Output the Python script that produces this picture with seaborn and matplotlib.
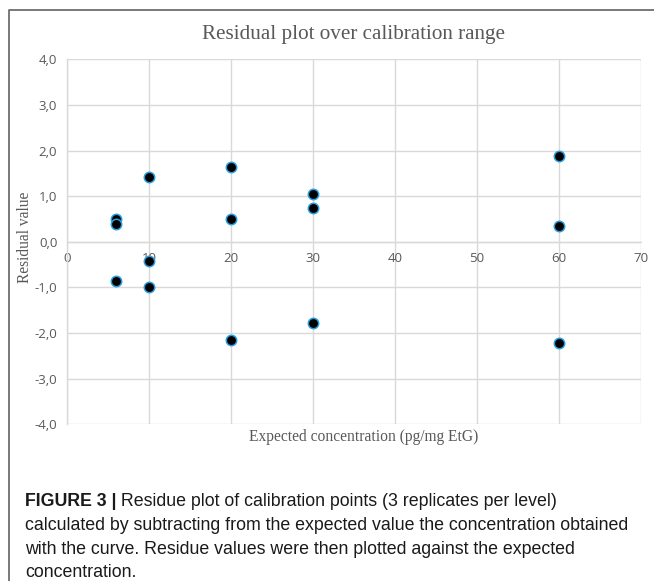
import matplotlib
matplotlib.use("Agg")
import matplotlib.pyplot as plt
from matplotlib.lines import Line2D
import seaborn as sns
import pandas as pd

# Calibration levels (pg/mg EtG) and residuals, three replicates per level
expected_conc = [6, 6, 6, 10, 10, 10, 20, 20, 20, 30, 30, 30, 60, 60, 60]
residuals = [0.50, 0.39, -0.87, 1.43, -0.41, -1.00, 1.64, 0.50, -2.15,
             1.05, 0.75, -1.78, 1.87, 0.35, -2.22]

x_ticks = [0, 10, 20, 30, 40, 50, 60, 70]
y_ticks = [-4.0, -3.0, -2.0, -1.0, 0.0, 1.0, 2.0, 3.0, 4.0]
y_tick_labels = ["-4,0", "-3,0", "-2,0", "-1,0", "0,0", "1,0", "2,0", "3,0", "4,0"]

chart_title = "Residual plot over calibration range"
x_title = "Expected concentration (pg/mg EtG)"
y_title = "Residual value"
caption_bold = "FIGURE 3 |"
caption_lines = [
    " Residue plot of calibration points (3 replicates per level)",
    "calculated by subtracting from the expected value the concentration obtained",
    "with the curve. Residue values were then plotted against the expected",
    "concentration.",
]

df = pd.DataFrame({"conc": expected_conc, "resid": residuals})

sns.set_theme(style="white")
W, H = 654, 581
fig = plt.figure(figsize=(W / 100, H / 100), dpi=100)
fig.patch.set_facecolor("white")

ax = fig.add_axes([67 / W, 1 - 424.3 / H, (641 - 67) / W, (424.3 - 59.3) / H])
ax.set_facecolor("white")

sns.scatterplot(data=df, x="conc", y="resid", ax=ax, color="black",
                edgecolor="#2a9fe0", linewidth=1.1, s=56, zorder=4,
                legend=False, clip_on=False)

ax.set_xlim(0, 70)
ax.set_ylim(-4, 4)
ax.set_xticks(x_ticks)
ax.set_xticklabels([str(t) for t in x_ticks])
ax.set_yticks(y_ticks)
ax.set_yticklabels(y_tick_labels)

grid_c = "#d9d9d9"
ax.grid(True, color=grid_c, linewidth=1.0, zorder=0)
ax.set_axisbelow(True)
for side in ["top", "right"]:
    ax.spines[side].set_visible(False)
ax.spines["bottom"].set_position(("data", 0))
ax.spines["bottom"].set_color(grid_c)
ax.spines["left"].set_color(grid_c)
ax.spines["bottom"].set_linewidth(1.0)
ax.spines["left"].set_linewidth(1.0)

for lab in ax.get_xticklabels() + ax.get_yticklabels():
    lab.set_fontfamily("Open Sans")
    lab.set_fontsize(9.5)
    lab.set_color("#595959")
ax.tick_params(axis="both", length=0)
ax.tick_params(axis="x", pad=7)
ax.tick_params(axis="y", pad=7)
ax.set_xlabel("")
ax.set_ylabel("")

serif = ["Liberation Serif", "DejaVu Serif"]
fig.text(354 / W, 1 - 35 / H, chart_title, ha="center", va="center",
         family=serif, fontsize=15.2, color="#595959")
fig.text(364 / W, 1 - 437 / H, x_title, ha="center", va="center",
         family=serif, fontsize=11.2, color="#595959")
fig.text(25 / W, 1 - 237 / H, y_title, ha="center", va="center",
         rotation=90, family=serif, fontsize=11.2, color="#595959")

# Caption below the chart, placed by baseline
sans = ["Liberation Sans", "DejaVu Sans"]
cap_size = 12.8
baselines = [506, 530, 554, 577]
bold_txt = fig.text(25 / W, 1 - baselines[0] / H, caption_bold, ha="left",
                    va="baseline", family=sans, fontsize=cap_size,
                    fontweight="bold", color="#1a1a1a")
fig.canvas.draw()
bb = bold_txt.get_window_extent(renderer=fig.canvas.get_renderer())
fig.text(bb.x1 / W, 1 - baselines[0] / H, caption_lines[0], ha="left",
         va="baseline", family=sans, fontsize=cap_size, color="#1a1a1a")
for yy, line in zip(baselines[1:], caption_lines[1:]):
    fig.text(25 / W, 1 - yy / H, line, ha="left", va="baseline",
             family=sans, fontsize=cap_size, color="#1a1a1a")

# Frame lines around the figure panel
frame_c = "#6e6e6e"
fig.add_artist(Line2D([9 / W, 9 / W, 1.0], [0.0, 1 - 10 / H, 1 - 10 / H],
                      transform=fig.transFigure, color=frame_c, linewidth=1.3))

fig.savefig("out.png", dpi=100, facecolor="white")
